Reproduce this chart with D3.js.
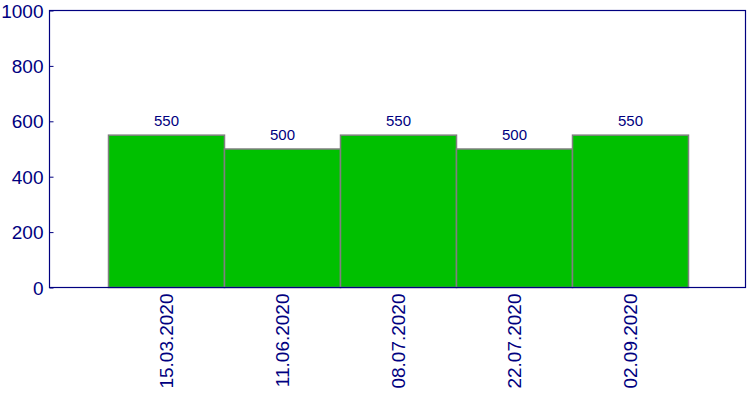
<!DOCTYPE html>
<html>
<head>
<meta charset="utf-8">
<script src="https://cdn.jsdelivr.net/npm/d3@7"></script>
<style>
  body { margin: 0; background: white; }
  text { font-family: "Liberation Sans", Arial, sans-serif; }
</style>
</head>
<body>
<div id="vue"></div>
<script>
var dates = ["15.03.2020", "11.06.2020", "08.07.2020", "22.07.2020", "02.09.2020"];
var values = [550, 500, 550, 500, 550];
var yTicks = [0, 200, 400, 600, 800, 1000];

var width = 750, height = 400;
var plotLeft = 49.5, plotRight = 745.5, plotTop = 10.5, plotBottom = 287.5;
var navy = "#000080";

var svg = d3.select("#vue").append("svg")
  .attr("width", width)
  .attr("height", height);

// bandes décalées d'un pixel pour coller à l'original
var x = d3.scaleBand().domain(dates).range([plotLeft + 1, plotRight + 1]).paddingInner(0).paddingOuter(0.5);
var y = d3.scaleLinear().domain([0, 1000]).range([plotBottom, plotTop]);

// barres
svg.selectAll("rect.bar")
  .data(values)
  .enter()
  .append("rect")
  .attr("class", "bar")
  .attr("x", function (d, i) { return x(dates[i]); })
  .attr("y", function (d) { return y(d); })
  .attr("width", x.bandwidth())
  .attr("height", function (d) { return plotBottom - y(d); })
  .attr("fill", "#00c000")
  .attr("stroke", "#808080")
  .attr("stroke-width", 1.5);

// valeurs au-dessus des barres
svg.selectAll("text.val")
  .data(values)
  .enter()
  .append("text")
  .attr("class", "val")
  .attr("x", function (d, i) { return x(dates[i]) + x.bandwidth() / 2; })
  .attr("y", function (d) { return y(d) - 9; })
  .attr("text-anchor", "middle")
  .attr("font-size", 15)
  .attr("fill", navy)
  .text(function (d) { return d; });

// cadre
svg.append("rect")
  .attr("x", plotLeft).attr("y", plotTop)
  .attr("width", plotRight - plotLeft).attr("height", plotBottom - plotTop)
  .attr("fill", "none")
  .attr("stroke", navy)
  .attr("stroke-width", 1.2);

// axe Y
var yAxis = svg.append("g")
  .attr("transform", "translate(" + plotLeft + ",0)")
  .call(d3.axisRight(y).tickValues(yTicks).tickSize(4).tickFormat(d3.format("d")));
yAxis.select(".domain").remove();
yAxis.selectAll("line").attr("stroke", navy);
yAxis.selectAll("text")
  .attr("x", -6)
  .attr("dy", "0.35em")
  .attr("text-anchor", "end")
  .attr("font-size", 19)
  .attr("font-family", "Liberation Sans, Arial, sans-serif")
  .attr("fill", navy);

// axe X
var xAxis = svg.append("g")
  .attr("transform", "translate(0," + plotBottom + ")")
  .call(d3.axisBottom(x).tickSize(0));
xAxis.select(".domain").remove();
xAxis.selectAll("text")
  .attr("transform", "rotate(-90)")
  .attr("x", -6)
  .attr("y", 0)
  .attr("dy", "0.35em")
  .attr("text-anchor", "end")
  .attr("font-size", 19)
  .attr("font-family", "Liberation Sans, Arial, sans-serif")
  .attr("fill", navy);
</script>
</body>
</html>
